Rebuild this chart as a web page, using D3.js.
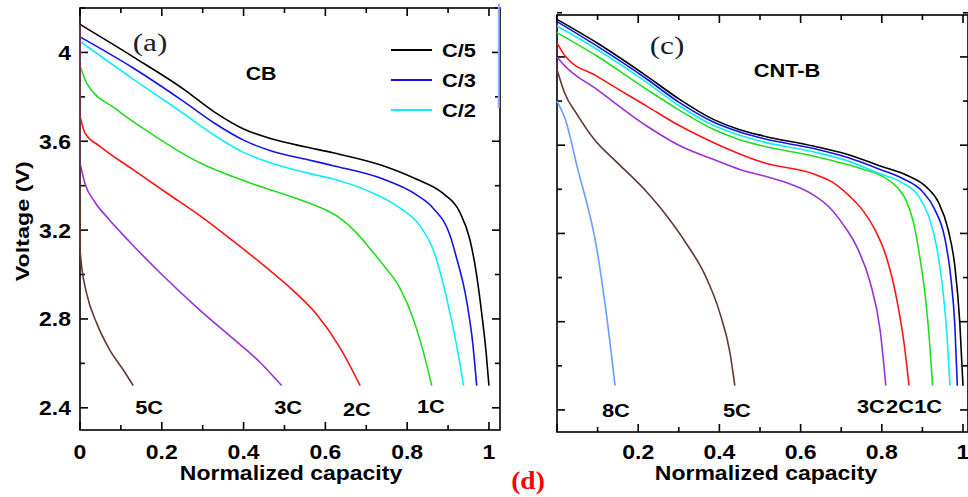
<!DOCTYPE html>
<html>
<head>
<meta charset="utf-8">
<script src="https://cdn.jsdelivr.net/npm/d3@7"></script>
<style>
  html, body { margin: 0; padding: 0; background: #fff; }
  svg { display: block; }
</style>
</head>
<body>
<div id="chart"></div>
<script>
// Discharge curves: [normalized capacity, voltage]
const cbSeries = ['C/5', 'C/3', 'C/2', '1C', '2C', '3C', '5C'];
const cntSeries = ['C/5', 'C/3', 'C/2', '1C', '2C', '3C', '5C', '8C'];
const rateColors = {
  'C/5': '#000000', 'C/3': '#1414e6', 'C/2': '#10ecfa', '1C': '#22dd22',
  '2C': '#ff1414', '3C': '#9b30d6', '5C': '#5e3a33', '8C': '#6b9cff'
};
const legendRates = ['C/5', 'C/3', 'C/2'];
const xTicksLeft = [0, 0.2, 0.4, 0.6, 0.8, 1];
const xTicksRight = [0.2, 0.4, 0.6, 0.8, 1];
const yTicks = [2.4, 2.8, 3.2, 3.6, 4];

// open-circuit voltage the CB curves drop from at x = 0
const cbRest = 4.12;

const cbData = {
  'C/5': [[0, 4.126], [0.13, 3.98], [0.253, 3.835], [0.33, 3.73], [0.40, 3.655], [0.47, 3.61],
          [0.55, 3.575], [0.619, 3.548], [0.741, 3.49], [0.822, 3.43], [0.888, 3.365], [0.929, 3.28],
          [0.953, 3.16], [0.968, 3.02], [0.982, 2.83], [0.993, 2.65], [1.0, 2.5]],
  'C/3': [[0, 4.07], [0.13, 3.93], [0.253, 3.78], [0.33, 3.68], [0.40, 3.605], [0.47, 3.555],
          [0.55, 3.52], [0.619, 3.49], [0.741, 3.43], [0.822, 3.36], [0.863, 3.30], [0.904, 3.18],
          [0.92, 3.08], [0.945, 2.886], [0.961, 2.68], [0.97, 2.5]],
  'C/2': [[0, 4.05], [0.13, 3.88], [0.253, 3.725], [0.33, 3.625], [0.40, 3.55], [0.47, 3.50],
          [0.55, 3.46], [0.619, 3.43], [0.70, 3.38], [0.782, 3.30], [0.831, 3.22], [0.864, 3.11],
          [0.897, 2.89], [0.92, 2.69], [0.938, 2.5]],
  '1C':  [[0, 3.94], [0.016, 3.863], [0.09, 3.743], [0.171, 3.638], [0.293, 3.503], [0.416, 3.412],
          [0.538, 3.337], [0.59, 3.30], [0.635, 3.255], [0.675, 3.19], [0.71, 3.115], [0.745, 3.035],
          [0.782, 2.94], [0.815, 2.80], [0.839, 2.655], [0.86, 2.5]],
  '2C':  [[0, 3.713], [0.012, 3.638], [0.049, 3.577], [0.13, 3.472], [0.212, 3.367], [0.293, 3.265],
          [0.375, 3.15], [0.45, 3.04], [0.52, 2.93], [0.579, 2.82], [0.636, 2.67], [0.685, 2.5]],
  '3C':  [[0, 3.503], [0.012, 3.41], [0.035, 3.33], [0.07, 3.25], [0.12, 3.15], [0.2, 3.0],
          [0.293, 2.84], [0.375, 2.71], [0.44, 2.605], [0.493, 2.5]],
  '5C':  [[0, 3.11], [0.004, 3.036], [0.016, 2.916], [0.041, 2.78], [0.073, 2.66], [0.106, 2.57],
          [0.13, 2.5]]
};

const cntData = {
  'C/5': [[0, 4.17], [0.098, 4.064], [0.221, 3.913], [0.3, 3.81], [0.385, 3.717], [0.45, 3.67],
          [0.508, 3.642], [0.631, 3.596], [0.714, 3.559], [0.796, 3.506], [0.86, 3.465], [0.91, 3.41],
          [0.94, 3.34], [0.963, 3.22], [0.98, 3.05], [0.992, 2.80], [1.0, 2.51]],
  'C/3': [[0, 4.16], [0.098, 4.05], [0.221, 3.90], [0.3, 3.795], [0.385, 3.705], [0.45, 3.66],
          [0.508, 3.63], [0.631, 3.585], [0.714, 3.545], [0.796, 3.49], [0.85, 3.45], [0.9, 3.39],
          [0.93, 3.31], [0.955, 3.18], [0.97, 3.0], [0.98, 2.78], [0.986, 2.51]],
  'C/2': [[0, 4.14], [0.098, 4.035], [0.221, 3.885], [0.3, 3.78], [0.385, 3.69], [0.45, 3.645],
          [0.508, 3.615], [0.631, 3.57], [0.714, 3.53], [0.796, 3.47], [0.85, 3.43], [0.89, 3.37],
          [0.915, 3.28], [0.935, 3.14], [0.95, 2.95], [0.96, 2.75], [0.968, 2.51]],
  '1C':  [[0, 4.11], [0.098, 4.004], [0.221, 3.853], [0.3, 3.76], [0.385, 3.672], [0.45, 3.625],
          [0.508, 3.596], [0.631, 3.551], [0.754, 3.491], [0.80, 3.46], [0.837, 3.41], [0.86, 3.35],
          [0.878, 3.25], [0.893, 3.10], [0.908, 2.90], [0.918, 2.70], [0.925, 2.51]],
  '2C':  [[0, 4.064], [0.02, 4.004], [0.098, 3.913], [0.221, 3.777], [0.3, 3.69], [0.385, 3.612],
          [0.45, 3.56], [0.508, 3.521], [0.631, 3.47], [0.68, 3.43], [0.72, 3.37], [0.755, 3.30],
          [0.785, 3.21], [0.81, 3.10], [0.837, 2.90], [0.855, 2.70], [0.867, 2.51]],
  '3C':  [[0, 4.0], [0.02, 3.958], [0.098, 3.853], [0.221, 3.687], [0.3, 3.60], [0.385, 3.536],
          [0.45, 3.49], [0.508, 3.461], [0.58, 3.42], [0.631, 3.375], [0.67, 3.32], [0.705, 3.24],
          [0.738, 3.14], [0.771, 2.98], [0.796, 2.76], [0.81, 2.51]],
  '5C':  [[0, 3.943], [0.018, 3.84], [0.051, 3.735], [0.09, 3.63], [0.149, 3.52], [0.215, 3.40],
          [0.27, 3.28], [0.32, 3.15], [0.365, 3.01], [0.401, 2.84], [0.426, 2.66], [0.438, 2.51]],
  '8C':  [[0, 3.80], [0.02, 3.72], [0.05, 3.50], [0.098, 3.13], [0.122, 2.83], [0.143, 2.51]]
};

// rate labels under the curve ends: [label, capacity position, baseline voltage]
const cbLabels = [['5C', 0.169, 2.37], ['3C', 0.509, 2.37], ['2C', 0.677, 2.365], ['1C', 0.858, 2.375]];
const cntLabels = [['8C', 0.145, 2.37], ['5C', 0.443, 2.37], ['3C', 0.773, 2.385], ['2C', 0.845, 2.385], ['1C', 0.914, 2.385]];

const W = 968, H = 497;
const svg = d3.select('#chart').append('svg').attr('width', W).attr('height', H);

const SX = 1.15; // the source figure is stretched horizontally
const fontSans = "'Liberation Sans', Arial, sans-serif";
const fontSerif = "'Liberation Serif', 'Times New Roman', serif";

function label(x, y, s, o = {}) {
  return svg.append('text')
    .attr('transform', `translate(${x},${y}) scale(${o.sx || SX},1)`)
    .attr('text-anchor', o.anchor || 'middle')
    .style('font-family', o.family || fontSans)
    .style('font-weight', o.weight || 'bold')
    .style('font-size', (o.size || 20) + 'px')
    .style('fill', o.fill || '#000')
    .text(s);
}

// scales
const xL = d3.scaleLinear().domain([0, 1.027]).range([80, 500]);
const yL = d3.scaleLinear().domain([2.3, 4.2]).range([430, 8]);
const xR = d3.scaleLinear().domain([0, 1.0123]).range([557, 968]);
const yR = d3.scaleLinear().domain([2.3, 4.19]).range([432, 15]);

function frame(x, y, xMinor, yMinor) {
  const [x0, x1] = x.range(), [y0, y1] = y.range();
  const g = svg.append('g').attr('fill', 'none').attr('stroke', '#000').attr('stroke-width', 1.6);
  g.append('rect').attr('x', x0).attr('y', y1).attr('width', x1 - x0).attr('height', y0 - y1);
  xMinor.forEach((v, i) => {
    const len = i % 2 === 0 ? 8 : 5;
    const px = x(v);
    g.append('line').attr('x1', px).attr('x2', px).attr('y1', y0).attr('y2', y0 - len);
    g.append('line').attr('x1', px).attr('x2', px).attr('y1', y1).attr('y2', y1 + len);
  });
  yMinor.forEach((v, i) => {
    const len = i % 2 === 0 ? 8 : 5;
    const py = y(v);
    g.append('line').attr('x1', x0).attr('x2', x0 + len).attr('y1', py).attr('y2', py);
    g.append('line').attr('x1', x1).attr('x2', x1 - len).attr('y1', py).attr('y2', py);
  });
}

const xMinorTicks = d3.range(0, 11).map(i => i / 10);
const yMinorTicks = d3.range(0, 10).map(i => 2.4 + i * 0.2);

frame(xL, yL, xMinorTicks, yMinorTicks);
frame(xR, yR, xMinorTicks, yMinorTicks);

const lineCurve = (x, y) => d3.line().x(d => x(d[0])).y(d => y(d[1])).curve(d3.curveMonotoneX);

// left panel curves (with the vertical drop from rest voltage along x = 0)
const lineL = lineCurve(xL, yL);
cbSeries.forEach(k => {
  const pts = cbData[k];
  if (k !== 'C/5') {
    svg.append('line')
      .attr('x1', xL(0)).attr('x2', xL(0))
      .attr('y1', yL(cbRest)).attr('y2', yL(pts[0][1]))
      .attr('stroke', rateColors[k]).attr('stroke-width', 1.6);
  }
  svg.append('path').attr('d', lineL(pts))
    .attr('fill', 'none').attr('stroke', rateColors[k]).attr('stroke-width', 1.6);
});

// right panel curves, drawn from fastest to slowest so C/5 sits on top
const lineR = lineCurve(xR, yR);
cntSeries.slice().reverse().forEach(k => {
  svg.append('path').attr('d', lineR(cntData[k]))
    .attr('fill', 'none').attr('stroke', rateColors[k]).attr('stroke-width', 1.6);
});

// sliver of the neighbouring panel (b) on the left panel's right edge
svg.append('line')
  .attr('x1', xL(1.024)).attr('x2', xL(1.024))
  .attr('y1', yL(4.22)).attr('y2', yL(3.75))
  .attr('stroke', '#8fb0ff').attr('stroke-width', 2);

// tick labels
xTicksLeft.forEach(v => label(xL(v), 459, d3.format('~g')(v)));
xTicksRight.forEach(v => label(xR(v), 459, d3.format('~g')(v)));
yTicks.forEach(v => label(71, yL(v) + 7.5, d3.format('~g')(v), { anchor: 'end' }));

// axis titles
label(291, 480, 'Normalized capacity', { size: 20 });
label(766, 480, 'Normalized capacity', { size: 20 });
svg.append('text')
  .attr('transform', `translate(29,${yL(3.24)}) rotate(-90)`)
  .attr('text-anchor', 'middle')
  .attr('textLength', 120).attr('lengthAdjust', 'spacingAndGlyphs')
  .style('font-family', fontSans).style('font-weight', 'bold').style('font-size', '19px')
  .text('Voltage (V)');

// panel titles
label(150, 51, '(a)', { family: fontSerif, weight: 'normal', size: 25, fill: '#1c1c2e', sx: 1.25 });
label(261, 80, 'CB', { size: 18.5 });
label(667, 54, '(c)', { family: fontSerif, weight: 'normal', size: 25, fill: '#1c1c2e', sx: 1.25 });
label(787, 77, 'CNT-B', { size: 19 });

// legend
legendRates.forEach((k, i) => {
  const y = 50 + i * 30;
  svg.append('line').attr('x1', 391).attr('x2', 432).attr('y1', y).attr('y2', y)
    .attr('stroke', rateColors[k]).attr('stroke-width', 2);
  label(442, y + 7, k, { anchor: 'start', size: 19 });
});

// rate labels
cbLabels.forEach(([s, v, b]) => label(xL(v), yL(b), s, { size: 19 }));
cntLabels.forEach(([s, v, b]) => label(xR(v), yR(b), s, { size: 19 }));

// sub-figure mark
label(528, 489, '(d)', { family: fontSerif, size: 25, fill: '#ff0000', sx: 1.1 });
</script>
</body>
</html>
